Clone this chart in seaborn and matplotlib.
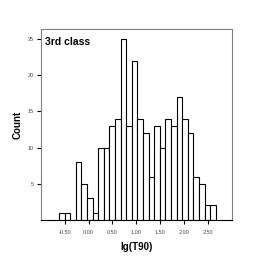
import numpy as np
import pandas as pd
import matplotlib
matplotlib.use("Agg")
import matplotlib.pyplot as plt
import seaborn as sns

# Data
counts = [1, 1, 0, 8, 5, 3, 1, 10, 10, 13, 14, 25, 13, 22, 14, 12, 6, 13,
          10, 14, 13, 17, 14, 12, 6, 5, 2, 2]
bin_start = -0.62
bin_width = 0.1173
xticks = [-0.5, 0.0, 0.5, 1.0, 1.5, 2.0, 2.5]
xtick_labels = ["-0.50", "0.00", "0.50", "1.00", "1.50", "2.00", "2.50"]
yticks = [5, 10, 15, 20, 25]
title_text = "3rd class"
xlabel = "lg(T90)"
ylabel = "Count"

sns.set_theme(style="white")
plt.rcParams['font.family'] = ['Liberation Sans', 'DejaVu Sans']
plt.rcParams['text.color'] = 'black'
plt.rcParams['axes.labelcolor'] = 'black'

edges = bin_start + bin_width * np.arange(len(counts) + 1)
centers = (edges[:-1] + edges[1:]) / 2
df = pd.DataFrame({"x": centers, "w": counts})

fig = plt.figure(figsize=(2.64, 2.64), dpi=100)
ax = fig.add_axes([0.155, 0.1667, 0.723, 0.722])

sns.histplot(data=df, x="x", weights="w", bins=edges.tolist(), ax=ax,
             color="white", edgecolor="black", linewidth=0.8, alpha=1.0)

ax.set_xlim(-1.0, 3.0)
ax.set_ylim(0, 26.3)
ax.set_xticks(xticks)
ax.set_xticklabels(xtick_labels)
ax.set_yticks(yticks)
ax.set_yticklabels([str(v) for v in yticks])
ax.tick_params(axis='both', labelsize=4, colors='#444444', length=3, width=0.8,
               direction='out', pad=2, bottom=True, left=True)
ax.tick_params(axis='both', color='black')
ax.tick_params(axis='x', pad=4)

for side in ['left', 'top', 'right']:
    ax.spines[side].set_color('#808080')
    ax.spines[side].set_linewidth(0.8)
ax.spines['bottom'].set_color('black')
ax.spines['bottom'].set_linewidth(0.8)

ax.set_xlabel(xlabel, fontsize=7, fontweight='bold', labelpad=5, color='black')
ax.set_ylabel(ylabel, fontsize=7, fontweight='bold', labelpad=4, color='black')
ax.text(0.02, 0.96, title_text, transform=ax.transAxes, ha='left', va='top',
        fontsize=7.5, fontweight='bold', color='black')

fig.savefig("out.png", dpi=100)
